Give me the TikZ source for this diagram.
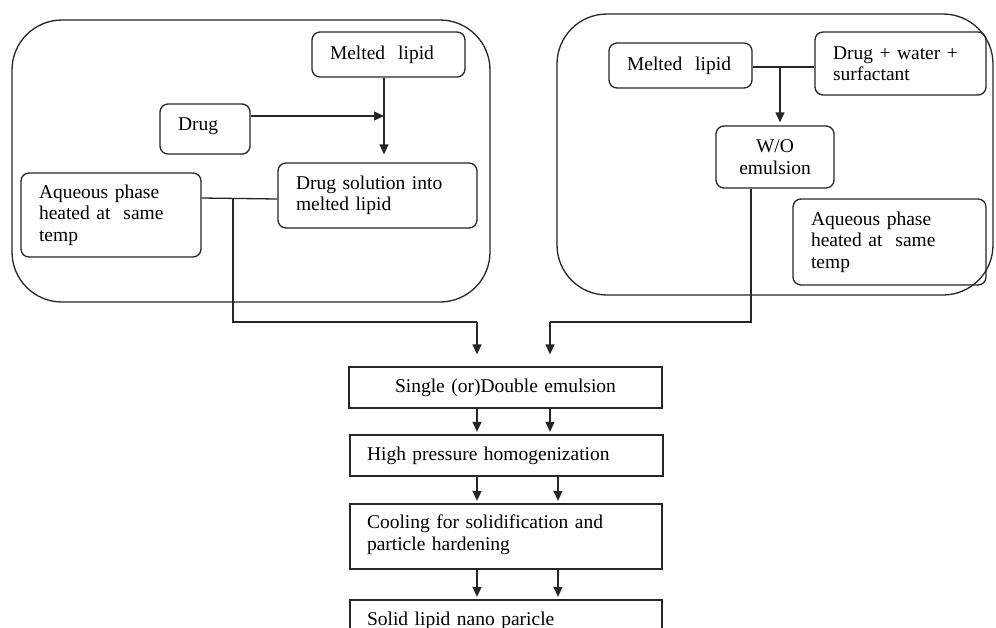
\documentclass[tikz,border=0pt]{standalone}
\usepackage{fontspec}
\setmainfont{Liberation Serif}
\usetikzlibrary{arrows.meta}
\begin{document}
\begin{tikzpicture}[x=1pt,y=-1pt,
  every node/.style={font=\fontsize{19.5}{21.5}\selectfont, text=black},
  rbox/.style={draw=black!85, line width=1.3pt, rounded corners=8pt, inner sep=0pt, align=left},
  sbox/.style={draw=black!85, line width=1.3pt, inner sep=0pt, align=left},
  bigbox/.style={draw=black!85, line width=1.3pt, rounded corners=50pt, inner sep=0pt},
  conn/.style={draw=black!85, line width=1.3pt},
  arr/.style={conn, -{Triangle[length=10pt,width=9pt]}}]
\clip (0,0) rectangle (996,627);
\useasboundingbox (0,0) rectangle (996,627);
\fill[white] (0,0) rectangle (996,627);

% group containers
\node[bigbox, minimum width=478pt, minimum height=282pt] (g1) at (251,161) {};
\node[bigbox, minimum width=436pt, minimum height=281pt] (g2) at (775,154.5) {};

% left group
\node[rbox, minimum width=153pt, minimum height=45pt, text width=117pt] (ml1) at (388.5,54.5) {Melted\ \ lipid};
\node[rbox, minimum width=90pt, minimum height=50pt, text width=54pt] (drug) at (205,129) {Drug\\[-11.5pt]\mbox{}};
\node[rbox, minimum width=199pt, minimum height=65pt, text width=163pt] (ds) at (377.5,195.5) {Drug solution into\\melted lipid};
\node[rbox, minimum width=180pt, minimum height=84pt, text width=144pt] (aq1) at (111,215) {Aqueous phase\\heated at\ \ same\\temp};

% right group
\node[rbox, minimum width=143pt, minimum height=45pt, text width=107pt] (ml2) at (680.5,65.5) {Melted\ \ lipid};
\node[rbox, minimum width=171pt, minimum height=63pt, text width=135pt] (dw) at (900.5,63.5) {Drug + water +\\surfactant};
\node[rbox, minimum width=118pt, minimum height=62pt, text width=100pt, align=center] (wo) at (775,157) {W/O\\emulsion};
\node[rbox, minimum width=193pt, minimum height=86pt, text width=157pt] (aq2) at (889.5,242) {Aqueous phase\\heated at\ \ same\\temp};

% main chain
\node[sbox, minimum width=313pt, minimum height=41pt, text width=277pt, align=center] (s1) at (505.5,387.5) {Single (or)Double emulsion};
\node[sbox, minimum width=313pt, minimum height=41pt, text width=279pt] (s2) at (506.5,455.5) {High pressure homogenization};
\node[sbox, minimum width=312pt, minimum height=65pt, text width=278pt] (s3) at (506,536.5) {Cooling for solidification and\\particle hardening\\[-13.5pt]\mbox{}};
\node[sbox, minimum width=312pt, minimum height=41pt, text width=278pt] (s4) at (506,620.5) {Solid lipid nano paricle};

% left group connectors
\coordinate (mlx) at ([xshift=-4.5pt]ml1.south);
\draw[arr, shorten >=8pt] (mlx) -- (mlx |- ds.north);
\draw[arr] ([yshift=13pt]drug.east) -- ([yshift=13pt]drug.east -| mlx);
\draw[conn] ([yshift=17pt]aq1.east) -- ([yshift=-3.5pt]ds.west);
\coordinate (j1) at (233,198);
\coordinate (k1) at (233,322);
\coordinate (a1) at (477,322);
\draw[conn] (j1) -- (k1) -- (a1);
\draw[arr, shorten >=12pt] (a1) -- (a1 |- s1.north);

% right group connectors
\draw[conn] ([yshift=-1.5pt]ml2.east) -- ([yshift=-3.5pt]dw.west);
\coordinate (j2) at (780,67);
\draw[arr, shorten >=3pt] (j2) -- (j2 |- wo.north);
\coordinate (w1) at ([xshift=-24pt]wo.south);
\coordinate (k2) at (w1 |- a1);
\coordinate (a2) at (550,322);
\draw[conn] (w1) -- (k2) -- (a2);
\draw[arr, shorten >=12pt] (a2) -- (a2 |- s1.north);

% chain arrows
\foreach \xa/\f/\t in {477/s1/s2, 550/s1/s2, 477/s2/s3, 558/s2/s3, 477/s3/s4, 558/s3/s4}{
  \draw[arr, shorten >=2.5pt] (\xa, 0 |- \f.south) -- (\xa, 0 |- \t.north);
}
\end{tikzpicture}
\end{document}
